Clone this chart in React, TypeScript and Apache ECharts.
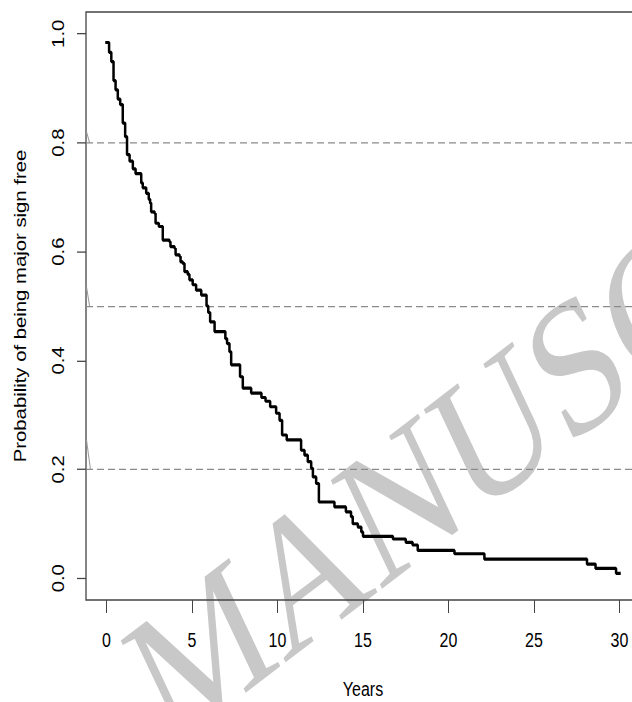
import React, { useEffect, useRef } from "react";
import * as echarts from "echarts";

// Kaplan-Meier estimate (time in years, survival probability)
const years = [0, 0.15, 0.28, 0.41, 0.53, 0.66, 0.80, 0.95, 1.09, 1.20, 1.35, 1.54, 1.70, 2.03, 2.12, 2.32, 2.47, 2.55, 2.61, 2.81, 2.87, 3.06, 3.29, 3.68, 3.74, 3.98, 4.04, 4.27, 4.33, 4.46, 4.56, 4.75, 4.85, 5.04, 5.24, 5.54, 5.85, 5.95, 6.06, 6.32, 6.95, 7.05, 7.19, 7.29, 7.81, 7.97, 8.46, 9.06, 9.30, 9.57, 9.92, 10.12, 10.27, 10.54, 11.38, 11.58, 11.77, 11.97, 12.07, 12.26, 12.42, 13.33, 14.00, 14.30, 14.40, 14.70, 14.90, 15.00, 16.75, 17.50, 17.90, 18.20, 20.35, 22.10, 28.10, 28.60, 29.80, 30.00];
const survival = [0.984, 0.966, 0.949, 0.914, 0.897, 0.880, 0.870, 0.836, 0.811, 0.778, 0.766, 0.752, 0.743, 0.726, 0.717, 0.707, 0.696, 0.689, 0.673, 0.670, 0.652, 0.646, 0.621, 0.618, 0.609, 0.606, 0.594, 0.591, 0.581, 0.578, 0.563, 0.558, 0.548, 0.539, 0.529, 0.520, 0.500, 0.488, 0.471, 0.453, 0.440, 0.431, 0.416, 0.392, 0.370, 0.349, 0.340, 0.332, 0.325, 0.315, 0.303, 0.290, 0.263, 0.254, 0.235, 0.226, 0.214, 0.202, 0.186, 0.174, 0.140, 0.131, 0.122, 0.113, 0.100, 0.094, 0.085, 0.077, 0.072, 0.066, 0.061, 0.051, 0.045, 0.035, 0.026, 0.018, 0.009, 0.009];

const xTicks = [0, 5, 10, 15, 20, 25, 30];
const yTicks = [0, 0.2, 0.4, 0.6, 0.8, 1.0];
const refLines = [0.8, 0.5, 0.2];
// small slanted marks at the left end of each reference line: [x0, y0, x1, y1]
const refMarks = [
  [-1.17, 0.82, -0.99, 0.8],
  [-1.17, 0.535, -0.99, 0.5],
  [-1.17, 0.254, -0.94, 0.2],
];

const xLabel = "Years";
const yLabel = "Probability of being major sign free";
const watermark = "MANUSCRIPT";

const SY = 1.27; // vertical stretch of the original figure
const FONT = '"Liberation Sans", Arial, Helvetica, sans-serif';

export default function App() {
  const ref = useRef<HTMLDivElement>(null);

  useEffect(() => {
    if (!ref.current) return;
    const chart = echarts.init(ref.current, undefined, { renderer: "svg" });
    const data = years.map((t, i) => [t, survival[i]]);
    const wmAngle = (31 * Math.PI) / 180;
    chart.setOption({
      animation: false,
      backgroundColor: "#fff",
      grid: {
        left: 86,
        top: 12 / SY,
        width: 554,
        height: (600 - 12) / SY,
        show: true,
        borderColor: "#444",
        borderWidth: 1.3,
        containLabel: false,
        outerBoundsMode: "none",
      },
      graphic: [
        {
          type: "text",
          x: 142,
          y: 548,
          rotation: wmAngle,
          silent: true,
          z: -10,
          style: {
            text: watermark,
            font: '152px "Liberation Serif", "Times New Roman", serif',
            fill: "#c8c8c8",
            align: "left",
            verticalAlign: "middle",
          },
        },
      ],
      xAxis: {
        type: "value",
        min: -1.2,
        max: 31.2,
        axisLine: { show: false, onZero: false },
        splitLine: { show: false },
        axisTick: {
          show: true,
          length: 10.2,
          customValues: xTicks,
          lineStyle: { color: "#444", width: 1 },
        },
        axisLabel: {
          customValues: xTicks,
          margin: 23.6,
          fontSize: 16,
          fontFamily: FONT,
          color: "#000",
        },
        name: xLabel,
        nameLocation: "middle",
        nameGap: 62,
        nameTextStyle: { fontSize: 16, fontFamily: FONT, color: "#000" },
      },
      yAxis: {
        type: "value",
        min: -0.04,
        max: 1.04,
        axisLine: { show: false, onZero: false },
        splitLine: { show: false },
        axisTick: {
          show: true,
          length: 9,
          customValues: yTicks,
          lineStyle: { color: "#444", width: 1 },
        },
        axisLabel: {
          customValues: yTicks,
          rotate: 90,
          margin: 20,
          fontSize: 16,
          fontFamily: FONT,
          color: "#000",
          formatter: (v: number) => v.toFixed(1),
        },
        name: yLabel,
        nameLocation: "middle",
        nameRotate: 90,
        nameGap: 58,
        nameTextStyle: { fontSize: 16, fontFamily: FONT, color: "#000" },
      },
      series: [
        {
          type: "line",
          step: "end",
          data,
          showSymbol: false,
          symbol: "none",
          clip: true,
          z: 5,
          lineStyle: { color: "#000", width: 2.5, cap: "square" },
          markLine: {
            silent: true,
            symbol: ["none", "none"],
            label: { show: false },
            lineStyle: { color: "#8a8a8a", width: 1, type: [7, 4] },
            data: refLines.map((v) => ({ yAxis: v })),
          },
        },
        {
          type: "line",
          data: [],
          markLine: {
            silent: true,
            symbol: ["none", "none"],
            label: { show: false },
            lineStyle: { color: "#9a9a9a", width: 1, type: "solid" },
            data: refMarks.map((m) => [
              { coord: [m[0], m[1]] },
              { coord: [m[2], m[3]] },
            ]),
          },
        },
      ],
    });
    return () => chart.dispose();
  }, []);

  return (
    <div
      style={{
        position: "fixed",
        left: 0,
        top: 0,
        width: 632,
        height: 702,
        overflow: "hidden",
        background: "#fff",
      }}
    >
      <div
        style={{
          width: 660,
          height: 702 / SY,
          transform: `scale(1, ${SY})`,
          transformOrigin: "0 0",
        }}
      >
        <div ref={ref} style={{ width: 660, height: 702 / SY }} />
      </div>
    </div>
  );
}
